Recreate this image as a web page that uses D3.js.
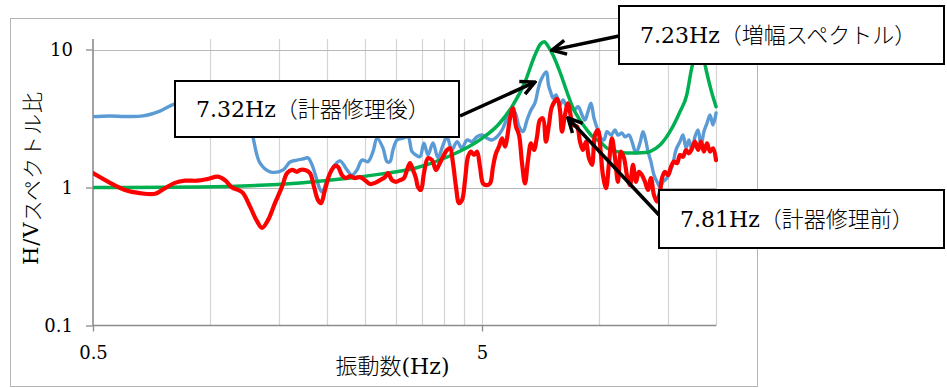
<!DOCTYPE html>
<html>
<head>
<meta charset="utf-8">
<script src="https://cdn.jsdelivr.net/npm/d3@7"></script>
<style>
  html, body { margin: 0; padding: 0; background: #fff; }
  svg { display: block; }
  text { font-family: "DejaVu Serif", "Noto Sans CJK JP", serif; fill: #000; }
</style>
</head>
<body>
<svg id="chart" width="947" height="388"></svg>
<script>
// H/V spectral ratio, after instrument repair (Hz / ratio)
const freqAfter = [0.500,0.553,0.604,0.672,0.743,0.812,0.942,1.125,1.251,1.289,
  1.344,1.426,1.540,1.605,1.673,1.733,1.785,1.828,1.940,1.998,
  2.095,2.158,2.249,2.316,2.386,2.457,2.546,2.623,2.686,2.783,
  2.850,2.900,2.952,3.023,3.132,3.226,3.304,3.382,3.463,3.546,
  3.632,3.741,3.853,3.969,4.064,4.186,4.312,4.442,4.575,4.712,
  4.854,5.000,5.150,5.305,5.465,5.630,5.799,5.937,6.080,6.225,
  6.375,6.526,6.682,6.842,6.964,7.088,7.32,7.41,7.52,7.61,
  7.75,7.93,8.08,8.27,8.42,8.62,8.83,9.04,9.20,9.36,
  9.53,9.70,9.88,10.05,10.29,10.48,10.73,10.99,11.18,11.45,
  11.66,11.94,12.15,12.44,12.74,12.97,13.20,13.36,13.59,13.84,
  14.09,14.34,14.60,14.95,15.21,15.49,15.76,16.14,16.43,16.73,
  17.02,17.33,17.64,17.96,18.28,18.60,18.94,19.28,19.62,19.98];
const hvAfter = [3.26,3.30,3.27,3.30,3.58,4.03,4.31,4.38,3.52,2.32,
  1.50,1.30,1.34,1.53,1.58,1.61,1.64,1.46,0.93,1.13,
  1.46,1.56,1.34,1.23,1.34,1.58,1.54,1.82,2.28,1.93,
  1.54,1.54,1.87,2.21,2.28,2.33,1.82,1.72,1.67,2.09,
  1.72,2.10,1.64,2.03,2.33,1.87,2.15,1.92,2.21,2.15,
  2.33,2.40,2.28,2.21,2.33,2.61,3.17,3.54,3.47,2.76,
  2.54,3.08,3.64,4.10,5.09,6.01,6.87,5.53,4.84,4.45,
  4.68,3.96,4.31,3.85,4.10,3.64,3.85,3.35,3.08,3.54,
  4.08,3.19,2.70,2.33,2.21,2.54,2.40,2.61,2.40,2.48,
  2.33,2.40,2.15,1.78,2.10,2.54,2.15,1.82,1.54,1.23,
  1.10,1.01,1.10,1.17,1.30,1.50,1.87,2.15,2.40,1.93,
  2.21,1.87,2.33,2.61,2.03,2.54,2.92,3.35,2.84,3.47];

// H/V spectral ratio, before instrument repair
const freqBefore = [0.500,0.553,0.604,0.660,0.722,0.766,0.812,0.862,0.925,0.982,
  1.048,1.092,1.139,1.180,1.215,1.266,1.320,1.360,1.409,1.468,
  1.530,1.577,1.624,1.673,1.702,1.754,1.807,1.850,1.894,1.928,
  1.974,2.034,2.095,2.132,2.183,2.235,2.289,2.358,2.428,2.501,
  2.577,2.654,2.734,2.816,2.866,2.935,3.005,3.077,3.151,3.207,
  3.265,3.323,3.382,3.422,3.484,3.546,3.632,3.719,3.808,3.876,
  3.969,4.064,4.137,4.211,4.287,4.364,4.442,4.522,4.602,4.685,
  4.769,4.854,4.941,5.030,5.120,5.243,5.336,5.432,5.530,5.630,
  5.731,5.799,5.902,6.008,6.116,6.225,6.337,6.449,6.565,6.682,
  6.802,6.923,7.046,7.172,7.300,7.432,7.565,7.81,7.932,8.027,
  8.171,8.317,8.416,8.568,8.774,8.931,9.091,9.253,9.419,9.588,
  9.759,9.933,10.11,10.23,10.42,10.61,10.79,10.99,11.18,11.38,
  11.59,11.79,12.01,12.22,12.44,12.66,12.89,13.12,13.36,13.59,
  13.84,14.09,14.34,14.51,14.77,15.04,15.30,15.58,15.86,16.14,
  16.43,16.73,17.02,17.33,17.64,17.96,18.28,18.60,18.94,19.28,
  19.62,19.98];
const hvBefore = [1.27,1.08,0.96,0.91,0.90,0.99,1.08,1.12,1.12,1.15,
  1.20,1.13,1.00,0.96,0.91,0.73,0.57,0.51,0.58,0.77,
  1.01,1.27,1.34,1.30,1.34,1.34,1.27,1.01,0.81,0.77,
  0.96,1.27,1.43,1.41,1.23,1.17,1.21,1.17,1.19,1.13,
  1.06,1.08,1.13,1.19,1.27,1.13,1.10,1.13,1.17,1.34,
  1.50,1.34,1.17,1.01,0.96,1.27,1.63,1.58,1.34,1.46,
  1.67,1.87,1.93,1.50,1.01,0.77,0.81,1.13,1.67,1.82,
  1.72,1.82,1.41,1.07,1.04,1.07,1.41,1.77,1.98,2.27,
  1.98,2.27,3.17,3.75,2.76,2.40,1.50,1.07,1.58,2.09,
  1.87,2.33,3.08,3.17,2.15,2.84,3.85,4.38,3.64,2.54,
  3.35,4.08,3.54,2.84,2.76,2.15,1.87,2.15,1.63,1.46,
  2.40,2.61,1.72,1.23,0.99,1.54,2.27,1.63,1.10,1.82,
  1.63,1.23,1.04,1.46,1.10,1.30,1.23,1.10,0.96,1.17,
  0.88,0.79,0.93,1.17,1.30,1.23,1.41,1.54,1.50,1.72,
  1.67,1.87,1.77,1.92,2.15,1.87,2.15,1.82,2.09,1.82,
  1.92,1.58];

// Amplification spectrum
const freqAmp = [0.5,0.942,1.702,2.289,2.734,3.362,4.088,5.0,5.497,5.972,
  6.449,6.842,7.07,7.23,7.388,7.61,7.932,8.268,8.568,8.931,
  9.308,9.644,10.05,10.48,11.12,11.79,12.52,13.12,13.51,14.34,
  15.21,16.14,16.8,17.30,17.64,18.07,18.49,18.89,19.45,19.98];
const ampValues = [1.00,1.01,1.08,1.17,1.25,1.38,1.67,2.27,2.84,3.85,
  5.81,9.12,10.96,11.4,10.60,9.12,6.87,4.92,3.77,3.08,
  2.61,2.32,2.15,1.93,1.82,1.78,1.78,1.79,1.82,2.03,
  2.54,3.54,4.68,7.34,9.12,11.7,9.12,6.90,4.95,3.85];

// Axis ticks and grid
const xTickValues = [0.5, 5];
const xGridValues = [1, 1.5, 2, 2.5, 3, 3.5, 4, 4.5, 5, 10, 15, 20];
const yTickValues = [0.1, 1, 10];
const yGridValues = [1, 10];

// Peak callouts: label text and the point each arrow points at
const calloutLabels = ["7.32Hz（計器修理後）", "7.23Hz（増幅スペクトル）", "7.81Hz（計器修理前）"];
const calloutFreq = [6.84, 7.565, 8.317];
const calloutHV = [5.81, 9.9, 3.19];

const yTitle = "H/Vスペクトル比";
const xTitle = "振動数(Hz)";

// ---------- layout ----------
const plotArea = { left: 93, right: 716.2, top: 39, bottom: 325.5 };
const calloutBoxes = [
  { x: 175, y: 81, w: 284, h: 56, ax: 460, ay: 116 },
  { x: 619, y: 6,  w: 325, h: 58, ax: 619, ay: 36 },
  { x: 659, y: 190, w: 285, h: 58, ax: 659, ay: 215 }
];
const latinFont = "DejaVu Serif";
const cjkFont = "Noto Sans CJK JP";

const svg = d3.select("#chart");

const x = d3.scaleLog().domain([0.5, 20]).range([plotArea.left, plotArea.right]);
const y = d3.scaleLog().domain([0.1, 10]).range([plotArea.bottom, 49.5]);

// Write a string as tspans, Latin runs in the serif face and CJK runs in the CJK face
function mixedText(sel, str) {
  const runs = str.match(/[\u3000-\u9fff\uff00-\uffef]+|[^\u3000-\u9fff\uff00-\uffef]+/g) || [];
  runs.forEach(r => {
    const cjk = /[\u3000-\u9fff\uff00-\uffef]/.test(r);
    sel.append("tspan")
      .attr("font-family", cjk ? cjkFont : latinFont)
      .attr("font-weight", cjk ? 300 : 400)
      .text(r);
  });
  return sel;
}

// chart frame
svg.append("rect")
  .attr("x", 10.5).attr("y", 18.5).attr("width", 747).attr("height", 368)
  .attr("fill", "#fff").attr("stroke", "#B4B4B4").attr("stroke-width", 1);

const crisp = v => Math.round(v) + 0.5;

// vertical grid
svg.append("g").selectAll("line").data(xGridValues).join("line")
  .attr("x1", d => crisp(x(d))).attr("x2", d => crisp(x(d)))
  .attr("y1", plotArea.top).attr("y2", plotArea.bottom)
  .attr("stroke", "#D4D4D4").attr("stroke-width", 1.2);

// horizontal grid
svg.append("g").selectAll("line").data(yGridValues).join("line")
  .attr("x1", plotArea.left).attr("x2", plotArea.right)
  .attr("y1", d => crisp(y(d))).attr("y2", d => crisp(y(d)))
  .attr("stroke", "#B8B8B8").attr("stroke-width", 1.2);

// axes
const yAxis = d3.axisLeft(y).tickValues(yTickValues).tickFormat(d3.format("")).tickSize(7).tickPadding(13);
const gy = svg.append("g").attr("transform", `translate(${plotArea.left},0)`).call(yAxis);
const xAxis = d3.axisBottom(x).tickValues(xTickValues).tickFormat(d3.format("")).tickSize(6).tickPadding(15);
const gx = svg.append("g").attr("transform", `translate(0,${plotArea.bottom})`).call(xAxis);
[gx, gy].forEach(g => {
  g.select(".domain").remove();
  g.selectAll(".tick line").attr("stroke", "#8C8C8C").attr("stroke-width", 1.3);
  g.selectAll(".tick text").attr("font-size", 18).attr("font-family", latinFont).attr("fill", "#000");
});

svg.append("line")
  .attr("x1", plotArea.left).attr("x2", plotArea.left)
  .attr("y1", plotArea.top).attr("y2", plotArea.bottom)
  .attr("stroke", "#8C8C8C").attr("stroke-width", 1.6);
svg.append("line")
  .attr("x1", plotArea.left).attr("x2", plotArea.right)
  .attr("y1", plotArea.bottom).attr("y2", plotArea.bottom)
  .attr("stroke", "#8C8C8C").attr("stroke-width", 1.6);

// series
const defs = svg.append("defs");
defs.append("clipPath").attr("id", "plotClip")
  .append("rect").attr("x", plotArea.left).attr("y", plotArea.top - 30)
  .attr("width", plotArea.right - plotArea.left + 2).attr("height", plotArea.bottom - plotArea.top + 30);

const series = [
  { f: freqAfter, v: hvAfter, color: "#5B9BD5", width: 3.4, curve: d3.curveCatmullRom.alpha(0.5) },
  { f: freqAmp, v: ampValues, color: "#00B050", width: 3.5, curve: d3.curveMonotoneX },
  { f: freqBefore, v: hvBefore, color: "#FF0000", width: 4.2, curve: d3.curveCatmullRom.alpha(0.5) }
];

const gLines = svg.append("g").attr("clip-path", "url(#plotClip)");
series.forEach(s => {
  const pts = s.f.map((f, i) => [f, s.v[i]]);
  const line = d3.line().x(d => x(d[0])).y(d => y(d[1])).curve(s.curve);
  gLines.append("path").attr("d", line(pts))
    .attr("fill", "none").attr("stroke", s.color).attr("stroke-width", s.width)
    .attr("stroke-linejoin", "round").attr("stroke-linecap", "round");
});

// axis titles
mixedText(svg.append("text")
  .attr("transform", "translate(31,178) rotate(-90)")
  .attr("text-anchor", "middle").attr("dominant-baseline", "central")
  .attr("font-size", 21).attr("letter-spacing", 1), yTitle);
mixedText(svg.append("text")
  .attr("x", 392.5).attr("y", 374)
  .attr("text-anchor", "middle").attr("font-size", 22), xTitle);

// callout arrows
defs.append("marker")
  .attr("id", "openArrow").attr("viewBox", "0 0 18 18")
  .attr("refX", 16).attr("refY", 9)
  .attr("markerWidth", 18).attr("markerHeight", 18)
  .attr("markerUnits", "userSpaceOnUse").attr("orient", "auto")
  .append("path").attr("d", "M2,2 L16,9 L2,16")
  .attr("fill", "none").attr("stroke", "#000").attr("stroke-width", 3.5)
  .attr("stroke-linejoin", "miter");

const gCallouts = svg.append("g");
calloutBoxes.forEach((b, i) => {
  gCallouts.append("line")
    .attr("x1", b.ax).attr("y1", b.ay)
    .attr("x2", x(calloutFreq[i])).attr("y2", y(calloutHV[i]))
    .attr("stroke", "#000").attr("stroke-width", 3.5)
    .attr("marker-end", "url(#openArrow)");
});
calloutBoxes.forEach((b, i) => {
  gCallouts.append("rect")
    .attr("x", b.x).attr("y", b.y).attr("width", b.w).attr("height", b.h)
    .attr("fill", "#fff").attr("stroke", "#000").attr("stroke-width", 2);
  mixedText(gCallouts.append("text")
    .attr("x", b.x + 21).attr("y", b.y + b.h / 2 + 8)
    .attr("font-size", 22), calloutLabels[i]);
});
</script>
</body>
</html>
